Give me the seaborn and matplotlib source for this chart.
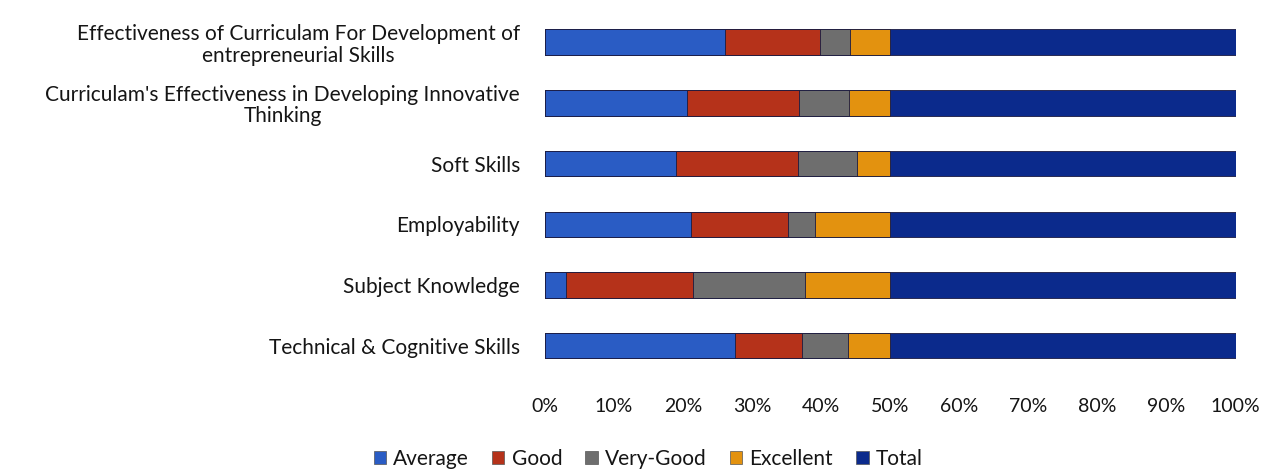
# -*- coding: utf-8 -*-
import matplotlib
matplotlib.use('Agg')
import matplotlib.pyplot as plt
import matplotlib.patches as mpatches
import numpy as np
import pandas as pd
import seaborn as sns

# data (percent of bar length)
CATEGORIES = ['Effectiveness of Curriculam For Development of\nentrepreneurial Skills',
              "Curriculam's Effectiveness in Developing Innovative\nThinking",
              'Soft Skills',
              'Employability',
              'Subject Knowledge',
              'Technical & Cognitive Skills']
AVERAGE = [26.0, 20.5, 19.0, 21.1, 3.0, 27.5]
GOOD = [13.8, 16.3, 17.6, 14.1, 18.4, 9.7]
VERY_GOOD = [4.3, 7.2, 8.6, 3.9, 16.2, 6.7]
EXCELLENT = [5.9, 6.0, 4.8, 10.9, 12.4, 6.1]
TOTAL = [50.0, 50.0, 50.0, 50.0, 50.0, 50.0]
SERIES = ['Average', 'Good', 'Very-Good', 'Excellent', 'Total']
COLORS = ['#2a5cc4', '#b5321a', '#6e6e6e', '#e3920f', '#0b2a8c']
XTICKS = [0, 10, 20, 30, 40, 50, 60, 70, 80, 90, 100]

sns.set_style('white')
plt.rcParams['font.family'] = ['Lato', 'DejaVu Sans']

df = pd.DataFrame({'cat': CATEGORIES, 'Average': AVERAGE, 'Good': GOOD,
                   'Very-Good': VERY_GOOD, 'Excellent': EXCELLENT,
                   'Total': TOTAL})
cum = df[SERIES].cumsum(axis=1)

fig = plt.figure(figsize=(12.66, 4.73), dpi=100)
ax = fig.add_axes([0.4305, 0.205, 0.5455, 0.77])

# stacked bars: draw longest cumulative first
for name, color in reversed(list(zip(SERIES, COLORS))):
    sns.barplot(x=cum[name], y=df['cat'], orient='h', color=color,
                width=0.42, ax=ax, edgecolor='#1a1a40', linewidth=0.6,
                saturation=1)

ax.set_xlim(0, 100)
ax.set_xticks(XTICKS)
ax.set_xticklabels(['%d%%' % t for t in XTICKS], fontsize=14, color='#151515')
ax.tick_params(axis='x', length=0, pad=16)
ax.tick_params(axis='y', length=0, pad=18)
for lbl in ax.get_yticklabels():
    lbl.set_multialignment('center')
    lbl.set_fontsize(15)
    lbl.set_color('#151515')
    lbl.set_linespacing(1.1)
ax.set_xlabel('')
ax.set_ylabel('')
sns.despine(ax=ax, left=True, bottom=True)

handles = [mpatches.Patch(facecolor=c, edgecolor='#555555', linewidth=0.5,
                          label=n) for n, c in zip(SERIES, COLORS)]
leg = fig.legend(handles=handles, loc='center', bbox_to_anchor=(0.512, 0.03),
                 ncol=5, frameon=False, fontsize=15, handlelength=0.6,
                 handleheight=0.6, handletextpad=0.35, columnspacing=1.1)
for t in leg.get_texts():
    t.set_color('#151515')

fig.savefig('out.png', dpi=100)
